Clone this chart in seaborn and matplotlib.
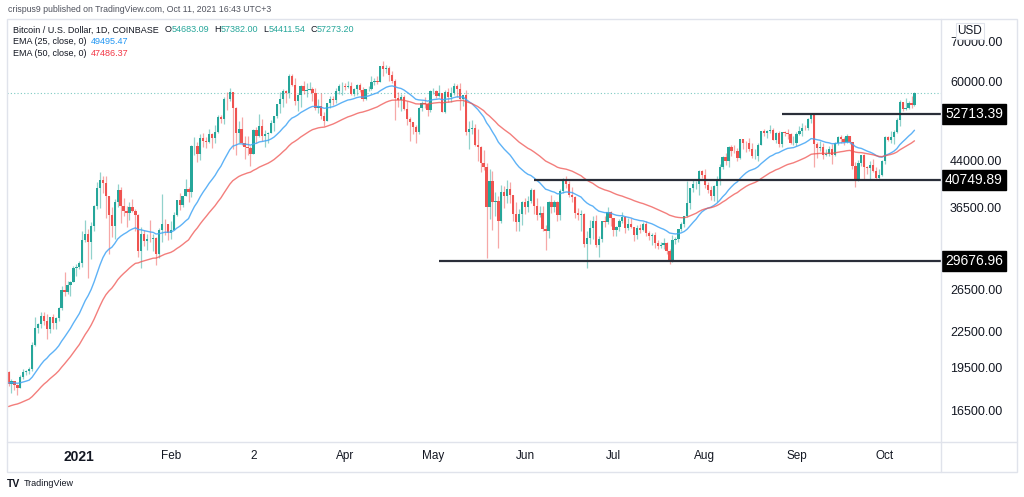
import matplotlib

matplotlib.use("Agg")

import matplotlib.pyplot as plt
import numpy as np
import pandas as pd
import seaborn as sns
from matplotlib.lines import Line2D
from matplotlib.patches import Rectangle
from matplotlib.ticker import FixedLocator, NullLocator, NullFormatter
from matplotlib.transforms import blended_transform_factory

OUTPUT = "out.png"
W, H = 1024, 497

START_DATE = "2020-12-08"
FIRST_OPEN = 19170

# daily closes, BTC/USD Coinbase, Dec 8 2020 .. Oct 11 2021
CLOSES = [
    # Dec 2020 (8..31)
    18320, 18550, 18250, 18030, 18800, 19170, 19270, 19440, 21370, 22850, 23140, 23860,
    23480, 22720, 23820, 23240, 23730, 24710, 26440, 26250, 27040, 27360, 28880, 28990,
    # Jan
    29410, 32200, 33000, 31990, 33990, 36820, 39490, 40670, 40240, 38240, 35550, 34050,
    37370, 39150, 36830, 36070, 35790, 36630, 36020, 35550, 30850, 33010, 32090, 32280,
    32270, 32500, 30430, 33450, 34320, 34270, 33110,
    # Feb
    33540, 35510, 37670, 36950, 38290, 39260, 38890, 46450, 46530, 45010, 47990, 47410,
    47230, 48720, 47950, 49170, 52160, 51650, 55900, 55840, 57410, 54090, 48890, 49690,
    47060, 46280, 46090, 45140,
    # Mar
    49600, 48400, 50350, 48370, 48760, 48880, 50970, 52390, 54880, 55850, 57770, 57220,
    61190, 59000, 55600, 56900, 58910, 57650, 58030, 58100, 57350, 54080, 54340, 52300,
    51300, 55030, 55840, 55780, 57630, 58770, 58800,
    # Apr
    58740, 58970, 57070, 58200, 59130, 57990, 56000, 58090, 58100, 59770, 59980, 59840,
    63580, 62970, 63210, 61390, 60040, 56250, 55660, 56470, 53800, 51700, 51190, 50110,
    49070, 54020, 55060, 54880, 53570, 57750,
    # May
    57830, 56610, 57170, 53200, 57440, 56390, 57340, 58930, 58280, 55860, 56750, 49150,
    49720, 49880, 46760, 46430, 43560, 42900, 36690, 40530, 37290, 37500, 34700, 38790,
    38320, 39240, 38460, 35660, 34600, 35650, 37340,
    # Jun
    36690, 37580, 39190, 36850, 35520, 35800, 33550, 33400, 37390, 36690, 37340, 35550,
    39020, 40520, 40160, 38350, 38100, 35840, 35490, 35600, 31680, 32510, 33680, 34660,
    31590, 32280, 34700, 34490, 35910, 35040,
    # Jul
    33540, 33860, 34690, 35290, 33700, 34220, 33880, 32870, 33810, 33510, 34260, 33090,
    32730, 32820, 31880, 31390, 31530, 31790, 30840, 29790, 32140, 32310, 33590, 34290,
    35410, 37270, 39460, 40030, 40040, 42240, 41490,
    # Aug
    39860, 39150, 38200, 39740, 40880, 42830, 44610, 43830, 46280, 45600, 45570, 44430,
    47830, 47090, 47040, 45950, 44690, 44710, 46760, 49340, 48870, 49290, 49510, 47700,
    48990, 46850, 49070, 48900, 48810, 46990, 47150,
    # Sep
    48840, 49280, 49940, 49930, 51790, 52700, 46870, 46090, 46390, 44850, 45160, 46050,
    44970, 47110, 48150, 47770, 47290, 48300, 47260, 42960, 40700, 43570, 44880, 42840,
    42700, 43180, 42230, 41030, 41520, 43790,
    # Oct (1..11)
    48140, 47660, 48200, 49230, 51490, 55340, 53800, 53970, 54960, 54683.09, 57273.20,
]

HIGHS = [
    # Dec 2020
    19290, 18640, 18560, 18290, 18950, 19410, 19350, 19570, 21560, 23770, 23290, 24300,
    24300, 24100, 23850, 24130, 23810, 24790, 26870, 28400, 27400, 27400, 29020, 29300,
    # Jan
    29680, 33300, 34780, 33650, 34500, 36940, 40370, 41950, 41360, 41350, 38260, 36630,
    37850, 40100, 39700, 37950, 36850, 37400, 37850, 36420, 35600, 33850, 33480, 32950,
    34880, 32920, 32560, 33770, 38500, 34950, 34300,
    # Feb
    34720, 35980, 37700, 38700, 38300, 40950, 39700, 46750, 48200, 47300, 48700, 48890,
    48160, 49700, 49000, 50600, 52620, 52550, 56370, 57540, 58350, 57500, 54200, 51400,
    52050, 48380, 48400, 46600,
    # Mar
    49790, 50150, 52650, 51800, 49480, 49200, 51450, 52400, 54900, 57390, 58150, 58000,
    61750, 61650, 60640, 56960, 58980, 60100, 59500, 59850, 58600, 58400, 55880, 57180,
    53200, 55090, 56650, 56580, 58400, 59400, 59800,
    # Apr
    59460, 60000, 59760, 58500, 59250, 59480, 58650, 58170, 58900, 61200, 60700, 61200,
    63780, 64850, 63800, 63550, 62500, 60400, 57550, 57100, 56800, 55480, 52100, 51200,
    50550, 54300, 55500, 56450, 55200, 57960,
    # May
    58500, 57950, 59000, 57200, 58000, 58360, 58650, 59500, 59300, 59600, 56900, 58000,
    51350, 51550, 50700, 49800, 46600, 45800, 43500, 42500, 42200, 38800, 38300, 39950,
    39800, 40800, 40400, 38200, 37300, 36400, 37470,
    # Jun
    37900, 38200, 39480, 39290, 37900, 36800, 36800, 34080, 37550, 38400, 37700, 37450,
    39350, 41000, 41330, 40500, 39550, 38200, 36450, 36150, 35750, 33300, 34880, 35300,
    35500, 32700, 34740, 35300, 36650, 36000,
    # Jul
    35050, 33950, 35000, 35950, 35300, 35100, 35070, 33900, 34100, 34250, 34600, 34650,
    33340, 33100, 33200, 32250, 31950, 32450, 31900, 31060, 32850, 32600, 33650, 34500,
    35410, 40550, 39540, 40900, 40600, 42310, 42400,
    # Aug
    42600, 40450, 39800, 39950, 41400, 43400, 44700, 45300, 46450, 46650, 46700, 46200,
    47850, 47880, 47370, 48050, 47150, 46000, 47070, 49370, 49800, 49500, 50500, 49880,
    49230, 49350, 49170, 49300, 49650, 48900, 48300,
    # Sep
    49150, 50400, 51000, 50550, 51900, 52800, 52920, 47350, 47400, 47050, 45950, 46450,
    46880, 47250, 48450, 48500, 48150, 48800, 48350, 47350, 43620, 44000, 44960, 45100,
    42950, 43900, 44300, 42800, 42600, 44100,
    # Oct
    48450, 48350, 49250, 49500, 51900, 55750, 55300, 56100, 55500, 56500, 57382.00,
]

LOWS = [
    # Dec 2020
    18200, 17650, 17910, 17570, 18020, 18710, 19000, 19060, 19300, 21230, 22350, 22790,
    23070, 21810, 22350, 22700, 22730, 23430, 24500, 25850, 26100, 25880, 27320, 28000,
    # Jan
    28700, 29000, 32000, 27700, 29900, 33300, 36370, 36500, 38720, 35110, 30420, 32530,
    32380, 36700, 34360, 35360, 33850, 34800, 35900, 33400, 30100, 28850, 31400, 30950,
    31960, 30830, 29240, 30000, 31950, 32850, 32200,
    # Feb
    32300, 33420, 35370, 36200, 36600, 38230, 37380, 38030, 45000, 43750, 44000, 46400,
    46240, 47040, 46200, 47050, 48950, 50900, 50730, 53530, 55500, 46000, 44900, 47000,
    46800, 44150, 45000, 43000,
    # Mar
    45050, 47100, 48150, 47510, 46300, 47080, 48900, 49300, 51850, 53050, 54280, 55000,
    56100, 58950, 54600, 53300, 54150, 57000, 56300, 57900, 55450, 53650, 53000, 51700,
    50400, 51330, 53950, 54700, 55000, 57050, 56900,
    # Apr
    57920, 58470, 56930, 56500, 56800, 57400, 55450, 55700, 57700, 57900, 59000, 59400,
    59800, 61300, 62050, 60000, 59600, 51540, 54200, 53400, 53600, 50600, 47500, 48800,
    47000, 48830, 53350, 53900, 52360, 53070,
    # May
    57060, 56050, 56480, 53100, 52900, 55200, 55300, 56900, 56300, 53500, 54400, 48600,
    46000, 48850, 46600, 43800, 42100, 42300, 30000, 35000, 33500, 35300, 31200, 34400,
    36450, 37200, 37200, 34700, 33400, 33400, 34200,
    # Jun
    35700, 35950, 37200, 35600, 34800, 35250, 33400, 31000, 32400, 35800, 35950, 34650,
    34800, 38750, 39500, 38100, 37400, 35150, 34800, 33350, 31300, 28800, 31700, 32300,
    31300, 30150, 32000, 33900, 34250, 34000,
    # Jul
    32700, 32700, 33400, 34400, 33150, 33500, 33780, 32100, 32300, 33050, 33300, 32700,
    32220, 31600, 31150, 31050, 31180, 31120, 30500, 29280, 29500, 31700, 31950, 33400,
    33850, 35230, 36400, 38800, 39250, 38350, 41000,
    # Aug
    39450, 38700, 37600, 37540, 37400, 39900, 42480, 43150, 42800, 44700, 45350, 43800,
    44250, 45950, 45500, 45690, 44400, 44200, 43950, 46650, 48300, 48100, 49050, 47600,
    47150, 46350, 46400, 48400, 47800, 46850, 46750,
    # Sep
    46550, 48650, 48400, 49500, 49450, 50970, 42900, 44400, 45550, 44200, 44750, 44750,
    43400, 44700, 46750, 47050, 46750, 47050, 46850, 42500, 39600, 40550, 43100, 40800,
    41700, 40800, 42100, 40900, 40800, 41450,
    # Oct
    43300, 47450, 47150, 46950, 49050, 50400, 53400, 53650, 53700, 54100, 54411.54,
]

EMA25_START = 18400
EMA50_START = 16700
EMA25_LAST = 49495.47
EMA50_LAST = 47486.37

# user-drawn horizontal levels and the day each one starts
LEVELS = [52713.39, 40749.89, 29676.96]
LEVEL_STARTS = ["2021-08-27", "2021-06-04", "2021-05-03"]

PRICE_TICKS = [16500, 19500, 22500, 26500, 36500, 44000, 60000, 70000]
MONTH_TICKS = ["2021-01-01", "2021-02-01", "2021-03-01", "2021-04-01", "2021-05-01",
               "2021-06-01", "2021-07-01", "2021-08-01", "2021-09-01", "2021-10-01"]
MONTH_LABELS = ["2021", "Feb", "2", "Apr", "May", "Jun", "Jul", "Aug", "Sep", "Oct"]

UP = "#26a69a"
DOWN = "#ef5350"
TEXT = "#131722"
BORDER = "#e0e3eb"


def fx(px):
    return px / W


def fy(py):
    return 1 - py / H


def main() -> None:
    sns.set_theme(style="white")
    plt.rcParams["font.family"] = ["Liberation Sans", "DejaVu Sans"]

    base = pd.Timestamp("2021-01-01")
    dates = pd.date_range(START_DATE, periods=len(CLOSES), freq="D")
    x = np.asarray((dates - base).days, dtype=float)
    closes = np.asarray(CLOSES, dtype=float)
    opens = np.concatenate([[FIRST_OPEN], closes[:-1]])
    highs = np.maximum(np.asarray(HIGHS, dtype=float), np.maximum(opens, closes))
    lows = np.minimum(np.asarray(LOWS, dtype=float), np.minimum(opens, closes))
    up = closes >= opens
    colors = np.where(up, UP, DOWN)

    ema25 = pd.Series(np.concatenate([[EMA25_START], closes])).ewm(span=25, adjust=False).mean().iloc[1:]
    ema50 = pd.Series(np.concatenate([[EMA50_START], closes])).ewm(span=50, adjust=False).mean().iloc[1:]
    df = pd.DataFrame({"x": x, "ema25": ema25.values, "ema50": ema50.values})

    fig = plt.figure(figsize=(W / 100, H / 100), dpi=100)
    ax = fig.add_axes([fx(7), fy(442), fx(941) - fx(7), fy(19) - fy(442)])
    for s in ax.spines.values():
        s.set_visible(False)

    px_per_day = 2.951
    left = x[0] - (8.5 - 7) / px_per_day
    right = left + (941 - 7) / px_per_day
    ax.set_xlim(left, right)
    ax.set_yscale("log")
    ax.set_ylim(14590, 76530)

    # candles
    ax.vlines(x, lows, highs, colors=colors, lw=0.9, alpha=0.5, zorder=2)
    body_h = np.maximum(np.abs(closes - opens), closes * 0.0008)
    ax.bar(x, body_h, bottom=np.minimum(opens, closes), width=0.78, color=colors,
           linewidth=0, zorder=3)

    sns.lineplot(data=df, x="x", y="ema25", ax=ax, color="#42a5f5", lw=1.0, alpha=0.85,
                 legend=False, zorder=4)
    sns.lineplot(data=df, x="x", y="ema50", ax=ax, color="#ef5350", lw=1.0, alpha=0.75,
                 legend=False, zorder=4)

    # current price dotted line
    ax.axhline(closes[-1], color=UP, lw=0.8, ls=(0, (1, 2)), alpha=0.6, zorder=1)

    # horizontal levels with black price tags
    tag_tr = blended_transform_factory(ax.transAxes, ax.transData)
    for level, start in zip(LEVELS, LEVEL_STARTS):
        xs = (pd.Timestamp(start) - base).days
        ax.hlines(level, xs, right, color="#2a2e39", lw=1.6, zorder=5)
        ax.text(1.0 + 4 / 934, level, f"{level:.2f}", transform=tag_tr, ha="left",
                va="center", color="white", fontsize=10, zorder=10, clip_on=False,
                bbox=dict(boxstyle="square,pad=0.22", fc="black", ec="black"))

    ax.yaxis.tick_right()
    ax.yaxis.set_major_locator(FixedLocator(PRICE_TICKS))
    ax.set_yticklabels([f"{t:.2f}" for t in PRICE_TICKS])
    ax.yaxis.set_minor_locator(NullLocator())
    ax.yaxis.set_minor_formatter(NullFormatter())
    ax.tick_params(axis="y", length=0, pad=6.5, labelsize=9, labelcolor=TEXT)

    ax.set_xticks([(pd.Timestamp(d) - base).days for d in MONTH_TICKS])
    ax.set_xticklabels(MONTH_LABELS)
    ax.tick_params(axis="x", length=0, pad=6, labelsize=8.5, labelcolor=TEXT)
    ax.get_xticklabels()[0].set_fontweight("bold")
    ax.get_xticklabels()[0].set_fontsize(10)
    ax.set_xlabel("")
    ax.set_ylabel("")
    ax.grid(False)

    # frame around chart, price axis and time axis
    fig.add_artist(Rectangle((fx(7), fy(472)), fx(1017) - fx(7), fy(19) - fy(472),
                             transform=fig.transFigure, fill=False, ec=BORDER, lw=1))
    fig.add_artist(Line2D([fx(941), fx(941)], [fy(19), fy(472)], transform=fig.transFigure,
                          color=BORDER, lw=1))
    fig.add_artist(Line2D([fx(7), fx(1017)], [fy(442), fy(442)], transform=fig.transFigure,
                          color=BORDER, lw=1))

    fig.text(fx(970), fy(31), "USD", ha="center", va="center", fontsize=8.5, color=TEXT,
             bbox=dict(boxstyle="square,pad=0.15", fc="white", ec=BORDER, lw=0.8), zorder=20)

    # header and legend
    fig.text(fx(8), fy(10), "crispus9 published on TradingView.com, Oct 11, 2021 16:43 UTC+3",
             fontsize=6.3, color="#50535e", va="center")

    renderer = fig.canvas.get_renderer()

    def put(px, py, text, color):
        t = fig.text(fx(px), fy(py), text, fontsize=6.5, color=color, va="center")
        return px + t.get_window_extent(renderer=renderer).width

    nx = put(13, 30, "Bitcoin / U.S. Dollar, 1D, COINBASE", TEXT) + 6
    ohlc = [("O", opens[-1]), ("H", highs[-1]), ("L", lows[-1]), ("C", closes[-1])]
    for letter, val in ohlc:
        nx = put(nx, 30, letter, TEXT)
        nx = put(nx, 30, f"{val:.2f}", UP) + 5
    nx = put(13, 42, "EMA (25, close, 0)", TEXT) + 4
    put(nx, 42, f"{EMA25_LAST:.2f}", "#2196f3")
    nx = put(13, 54, "EMA (50, close, 0)", TEXT) + 4
    put(nx, 54, f"{EMA50_LAST:.2f}", "#f23645")

    fig.text(fx(7), fy(484), "TV", fontsize=7.5, fontweight="bold", color=TEXT, va="center")
    fig.text(fx(24), fy(484), "TradingView", fontsize=6.5, color=TEXT, va="center")

    fig.savefig(OUTPUT, dpi=100)


if __name__ == "__main__":
    main()
